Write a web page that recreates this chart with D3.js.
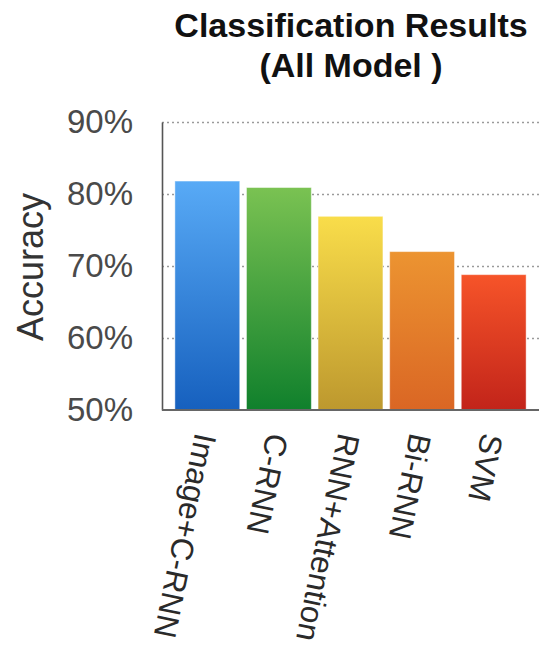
<!DOCTYPE html>
<html>
<head>
<meta charset="utf-8">
<script src="https://cdn.jsdelivr.net/npm/d3@7"></script>
<style>
  html, body { margin: 0; padding: 0; background: #fff; }
  svg { display: block; font-family: "Liberation Sans", Arial, Helvetica, sans-serif; }
</style>
</head>
<body>
<svg id="chart" width="559" height="653"></svg>
<script>
// Model accuracies (%)
const models = ["Image+C-RNN", "C-RNN", "RNN+Attention", "Bi-RNN", "SVM"];
const accuracy = [81.8, 80.9, 76.9, 72.0, 68.8];
const yTicks = [50, 60, 70, 80, 90];
const titleLines = ["Classification Results", "(All Model )"];
// gradient stops per bar: [top, bottom]
const barTop = ["#58aaf6", "#7ac252", "#f9dd4a", "#ec9431", "#f65429"];
const barBottom = ["#1660be", "#10802c", "#bd982e", "#da6624", "#c2241a"];

const svg = d3.select("#chart");
const plotLeft = 162, plotRight = 539, plotTop = 122, plotBottom = 410;

const x = d3.scaleBand()
  .domain(models)
  .range([plotLeft, plotRight])
  .paddingInner(0.094)
  .paddingOuter(0.18);

const y = d3.scaleLinear()
  .domain([50, 90])
  .range([plotBottom, plotTop]);

// gradients
const defs = svg.append("defs");
models.forEach((m, i) => {
  const g = defs.append("linearGradient")
    .attr("id", "grad" + i)
    .attr("x1", 0).attr("y1", 0).attr("x2", 0).attr("y2", 1);
  g.append("stop").attr("offset", "0%").attr("stop-color", barTop[i]);
  g.append("stop").attr("offset", "100%").attr("stop-color", barBottom[i]);
});

// title
svg.append("g").selectAll("text")
  .data(titleLines)
  .join("text")
  .attr("x", 351)
  .attr("y", (d, i) => 37 + i * 40)
  .attr("text-anchor", "middle")
  .attr("font-size", 34)
  .attr("font-weight", "bold")
  .attr("fill", "#111")
  .text(d => d);

// dotted gridlines
svg.append("g")
  .attr("transform", `translate(${plotLeft},0)`)
  .call(d3.axisLeft(y).tickValues(yTicks.slice(1)).tickSize(-(plotRight - plotLeft)).tickFormat(""))
  .call(g => g.select(".domain").remove())
  .call(g => g.selectAll("line")
    .attr("stroke", "#9a9a9a")
    .attr("stroke-width", 1.3)
    .attr("stroke-dasharray", "2,3"));

// bars
svg.append("g").selectAll("rect")
  .data(models)
  .join("rect")
  .attr("x", d => x(d))
  .attr("width", x.bandwidth())
  .attr("y", (d, i) => y(accuracy[i]))
  .attr("height", (d, i) => y(50) - y(accuracy[i]))
  .attr("fill", (d, i) => `url(#grad${i})`)
  .attr("stroke", "rgba(255,255,255,0.45)")
  .attr("stroke-width", 1);

// y axis with percentage labels
svg.append("g")
  .attr("transform", `translate(${plotLeft},0)`)
  .call(d3.axisLeft(y).tickValues(yTicks).tickSize(0).tickPadding(29).tickFormat(d => d + "%"))
  .call(g => g.select(".domain")
    .attr("stroke", "#555")
    .attr("stroke-width", 1.6))
  .call(g => g.selectAll("text")
    .attr("font-size", 33)
    .attr("fill", "#4a4a4a")
    .attr("font-family", "\"Liberation Sans\", Arial, sans-serif"));

// x axis baseline and rotated model labels
svg.append("g")
  .attr("transform", `translate(0,${plotBottom})`)
  .call(d3.axisBottom(x).tickSize(0).tickSizeOuter(0))
  .call(g => g.select(".domain")
    .attr("d", `M${plotLeft},0H${plotRight}`)
    .attr("stroke", "#666")
    .attr("stroke-width", 2.2))
  .call(g => g.selectAll(".tick text")
    .attr("font-size", 31.5)
    .attr("fill", "#2a2a2a")
    .attr("font-family", "\"Liberation Sans\", Arial, sans-serif")
    .attr("text-anchor", "start")
    .attr("dy", 0)
    .attr("y", 0)
    .attr("transform", "translate(-12,22) rotate(101.6)"));

// y axis title
svg.append("text")
  .attr("transform", "translate(43,267) rotate(-90)")
  .attr("text-anchor", "middle")
  .attr("font-size", 36)
  .attr("fill", "#333")
  .text("Accuracy");
</script>
</body>
</html>
